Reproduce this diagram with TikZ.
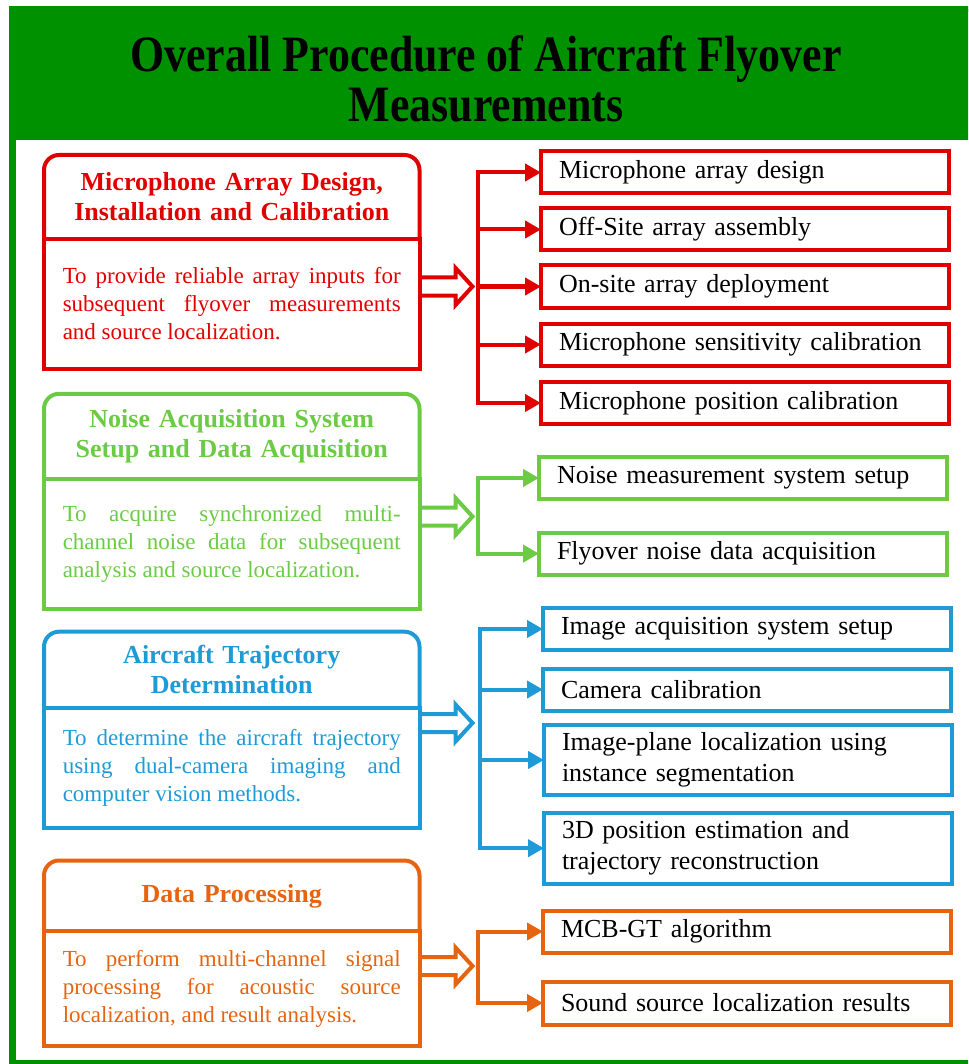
\documentclass[tikz,border=0pt]{standalone}
\usepackage{fontspec}
\setmainfont{Liberation Serif}
\newfontfamily\titlefont[FakeStretch=0.86]{Liberation Serif}
\usetikzlibrary{arrows.meta,calc}
\definecolor{tgreen}{RGB}{0,145,0}
\definecolor{cred}{RGB}{225,0,0}
\definecolor{cgreen}{RGB}{108,203,69}
\definecolor{cblue}{RGB}{30,155,215}
\definecolor{corange}{RGB}{230,100,15}
\begin{document}
\begin{tikzpicture}[x=1pt,y=-1pt,
  titlestyle/.style={inner sep=0pt, align=center, font=\titlefont\fontsize{51}{50}\selectfont\bfseries},
  hdr/.style={inner sep=0pt, outer sep=0pt, minimum width=375.5pt, text width=370pt, align=center,
    font=\fontsize{26}{30}\selectfont\bfseries, anchor=north west},
  hdrline/.style={line width=4pt, rounded corners=15pt},
  body/.style={draw, line width=4pt, inner sep=0pt, outer sep=0pt, minimum width=375.5pt,
    text width=338pt, align=justify, font=\fontsize{23}{28}\selectfont, anchor=north west},
  rbox/.style={draw, line width=4pt, inner xsep=18pt, inner ysep=0pt, outer sep=0pt,
    text width=372pt, align=left, font=\fontsize{26}{31}\selectfont, anchor=west, text=black,
    minimum height=42pt},
  bus/.style={line width=4pt},
  tip/.style={-{Triangle[length=16pt,width=17pt]}},
  dbl/.style={line width=4pt, line join=miter},
]
\useasboundingbox (0,0) rectangle (968,1064);
\clip (0,0) rectangle (968,1064);
% frame and title band
\fill[tgreen] (9,9) rectangle (975,140);
\draw[tgreen, line width=6.5pt] (12.7,9) rectangle (985,1063);
\node[titlestyle] (title) at (486,79) {Overall Procedure of Aircraft Flyover\\Measurements};

% ---------- red group ----------
\node[hdr, text=cred, minimum height=83.8pt] (h1) at (44,155) {Microphone Array Design,\\Installation and Calibration};
\draw[hdrline, cred] (h1.south west) -- (h1.north west) -- (h1.north east) -- (h1.south east);
\node[body, draw=cred, text=cred, minimum height=130.4pt] (b1) at (44,238.8)
  {To provide reliable array inputs for\linebreak subsequent flyover measurements\linebreak and source localization.};
\coordinate (j1) at (478.3,286.5);
\node[rbox, draw=cred] (r11) at (541,172.5) {Microphone array design};
\node[rbox, draw=cred] (r12) at (541,229.5) {Off-Site array assembly};
\node[rbox, draw=cred] (r13) at (541,286.5) {On-site array deployment};
\node[rbox, draw=cred] (r14) at (541,344.5) {Microphone sensitivity calibration};
\node[rbox, draw=cred] (r15) at (541,403) {Microphone position calibration};
\draw[dbl, cred] ($(b1.east|-j1)+(0,-9)$) -- ++(36,0) -- ++(0,-9.5) -- ++(17,18.5) -- ++(-17,18.5) -- ++(0,-9.5) -- ++(-36,0);
\draw[bus, cred, tip] (j1) |- (r11.west);
\draw[bus, cred, tip] (j1|-r12.west) -- (r12.west);
\draw[bus, cred, tip] (j1) -- (r13.west);
\draw[bus, cred, tip] (j1|-r14.west) -- (r14.west);
\draw[bus, cred, tip] (j1) |- (r15.west);

% ---------- green group ----------
\node[hdr, text=cgreen, minimum height=85pt] (h2) at (44,393.8) {Noise Acquisition System\\Setup and Data Acquisition};
\draw[hdrline, cgreen] (h2.south west) -- (h2.north west) -- (h2.north east) -- (h2.south east);
\node[body, draw=cgreen, text=cgreen, minimum height=130.4pt] (b2) at (44,478.8)
  {To acquire synchronized multi-\linebreak channel noise data for subsequent\linebreak analysis and source localization.};
\coordinate (j2) at (478,516.5);
\node[rbox, draw=cgreen] (r21) at (539,478) {Noise measurement system setup};
\node[rbox, draw=cgreen] (r22) at (539,553.6) {Flyover noise data acquisition};
\draw[dbl, cgreen] ($(b2.east|-j2)+(0,-9)$) -- ++(36,0) -- ++(0,-9.5) -- ++(17,18.5) -- ++(-17,18.5) -- ++(0,-9.5) -- ++(-36,0);
\draw[bus, cgreen, tip] (j2) |- (r21.west);
\draw[bus, cgreen, tip] (j2) |- (r22.west);

% ---------- blue group ----------
\node[hdr, text=cblue, minimum height=76.3pt] (h3) at (44,631.7) {Aircraft Trajectory\\Determination};
\draw[hdrline, cblue] (h3.south west) -- (h3.north west) -- (h3.north east) -- (h3.south east);
\node[body, draw=cblue, text=cblue, minimum height=120pt] (b3) at (44,708)
  {To determine the aircraft trajectory\linebreak using dual-camera imaging and\linebreak computer vision methods.};
\coordinate (j3) at (479.5,723);
\node[rbox, draw=cblue] (r31) at (543,629) {Image acquisition system setup};
\node[rbox, draw=cblue] (r32) at (543,689.5) {Camera calibration};
\node[rbox, draw=cblue, minimum height=70.6pt] (r33) at (544,760) {Image-plane localization using\\instance segmentation};
\node[rbox, draw=cblue, minimum height=71pt] (r34) at (544,848.2) {3D position estimation and\\trajectory reconstruction};
\draw[dbl, cblue] ($(b3.east|-j3)+(0,-9)$) -- ++(36,0) -- ++(0,-9.5) -- ++(17,18.5) -- ++(-17,18.5) -- ++(0,-9.5) -- ++(-36,0);
\draw[bus, cblue, tip] (j3) |- (r31.west);
\draw[bus, cblue, tip] (j3|-r32.west) -- (r32.west);
\draw[bus, cblue, tip] (j3|-r33.west) -- (r33.west);
\draw[bus, cblue, tip] (j3) |- (r34.west);

% ---------- orange group ----------
\node[hdr, text=corange, minimum height=70.8pt] (h4) at (44,860.5) {Data Processing};
\draw[hdrline, corange] (h4.south west) -- (h4.north west) -- (h4.north east) -- (h4.south east);
\node[body, draw=corange, text=corange, minimum height=115pt] (b4) at (44,931.3)
  {To perform multi-channel signal\linebreak processing for acoustic source\linebreak localization, and result analysis.};
\coordinate (j4) at (478.3,966);
\node[rbox, draw=corange] (r41) at (543,931.5) {MCB-GT algorithm};
\node[rbox, draw=corange, minimum height=43pt] (r42) at (543,1003) {Sound source localization results};
\draw[dbl, corange] ($(b4.east|-j4)+(0,-9)$) -- ++(36,0) -- ++(0,-9.5) -- ++(17,18.5) -- ++(-17,18.5) -- ++(0,-9.5) -- ++(-36,0);
\draw[bus, corange, tip] (j4) |- (r41.west);
\draw[bus, corange, tip] (j4) |- (r42.west);
\end{tikzpicture}
\end{document}
